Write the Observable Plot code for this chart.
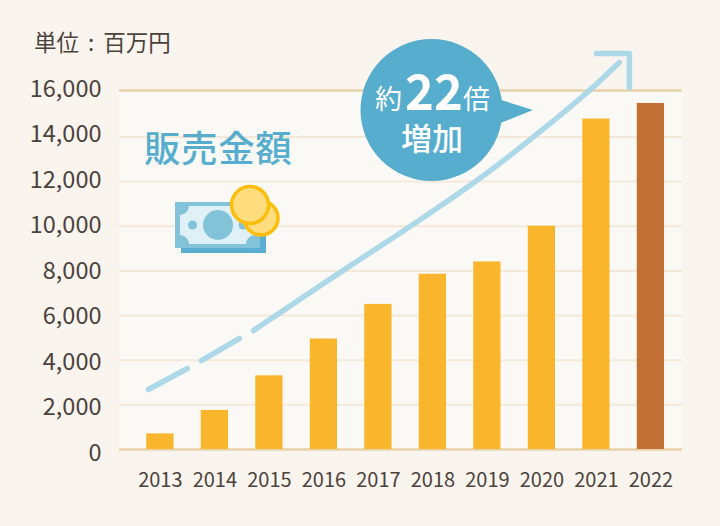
<!DOCTYPE html>
<html><head><meta charset="utf-8">
<script src="https://cdn.jsdelivr.net/npm/d3@7"></script>
<script src="https://cdn.jsdelivr.net/npm/@observablehq/plot@0.6"></script>
<style>html,body{margin:0;padding:0;background:#f9f4ed}svg{display:block}</style>
</head><body><div id="chart"></div>
<script>
const years=[2013,2014,2015,2016,2017,2018,2019,2020,2021,2022];
const sales=[700,1750,3300,4950,6500,7850,8400,10000,14800,15500];
const yTicks=[0,2000,4000,6000,8000,10000,12000,14000,16000];
const yTop=16080;
const trendYear=[2012.78,2013.495,2013.752,2014.45,2014.708,2015.075,2016.341,2017.587,2018.78,2019.846,2020.87,2021.42];
const trendValue=[2687,3628,3986,4972,5330,5930,8000,10000,12000,14000,16080,17334];
const trendPart=[0,0,1,1,2,2,2,2,2,2,2,2];
const headYear=[2021,2021.606,2021.606];
const headValue=[17737,17737,16214];
const font='"Noto Sans CJK JP","Noto Sans",sans-serif';
const ink="#4b423c", blue="#56adcd", lightBlue="#add8e8";
const bars=years.map((y,i)=>({y,v:sales[i]}));
const trend=trendYear.map((x,i)=>({x,v:trendValue[i],p:trendPart[i]}));
const head=headYear.map((x,i)=>({x,v:headValue[i]}));

function art(){
  const g=d3.create("svg:g");
  const t=(s,x,y,size,fill,weight,anchor)=>g.append("text").text(s).attr("x",x).attr("y",y)
    .attr("font-size",size).attr("fill",fill).attr("font-weight",weight||400).attr("text-anchor",anchor||"start").attr("font-family",font);
  t("単位 : 百万円",34,51,22.5,ink).attr("word-spacing",4);
  t("販売金額",144,162,36.5,blue,500).attr("letter-spacing",0.6);
  g.append("rect").attr("x",181).attr("y",208).attr("width",85).attr("height",45).attr("fill","#5aafd0");
  g.append("rect").attr("x",175).attr("y",202).attr("width",85).attr("height",46).attr("fill","#82c3da");
  g.append("path").attr("fill","#dff0f6").attr("d","M189,206H246A9,9 0 0 0 255,215V235A9,9 0 0 0 246,244H189A9,9 0 0 0 180,235V215A9,9 0 0 0 189,206Z");
  for(const [x,r] of [[218,15],[192.5,4.5],[243,4.5]]) g.append("circle").attr("cx",x).attr("cy",225).attr("r",r).attr("fill","#82c3da");
  for(const [x,y,r] of [[261,218,17],[250,205,18.5]]) g.append("circle").attr("cx",x).attr("cy",y).attr("r",r).attr("fill","#ffdc7e").attr("stroke","#fcbd0c").attr("stroke-width",3.5);
  g.append("path").attr("fill",blue).attr("d","M498,99L533,110L498,124Z");
  g.append("circle").attr("cx",431.5).attr("cy",110).attr("r",71).attr("fill",blue);
  t("約",375,109,27,"#fff",400);
  t("22",405,110,49,"#fff",700);
  t("倍",463,109,27,"#fff",400);
  t("増加",432,150,31,"#fff",500,"middle");
  return g.node();
}

const chart=Plot.plot({
  width:720,height:526,
  marginLeft:119,marginRight:38,marginTop:90,marginBottom:77,
  style:{background:"#f9f4ed",fontFamily:font,color:ink},
  x:{domain:[2012.25,2022.58],label:null},
  y:{domain:[0,yTop],label:null,axis:null},
  marks:[
    Plot.frame({fill:"#fbf9f6",stroke:null}),
    Plot.ruleY(yTicks.slice(1,-1),{stroke:"#f4e9d8",strokeWidth:2}),
    Plot.ruleY([0,yTop],{stroke:"#e8d2a8",strokeWidth:2.5}),
    Plot.rectY(bars,{x1:d=>d.y-0.25,x2:d=>d.y+0.25,y1:0,y2:"v",fill:d=>d.y===2022?"#c27035":"#f9b62c"}),
    Plot.text(yTicks,{x:()=>2012.25,y:d=>d*1.01766-157,text:d3.format(","),dx:-18,textAnchor:"end",lineAnchor:"middle",fontSize:23.5,fill:ink}),
    Plot.axisX({ticks:years,tickSize:0,tickPadding:23,fontSize:20,tickFormat:"d",label:null,fill:ink}),
    Plot.line(trend,{x:"x",y:"v",z:"p",stroke:lightBlue,strokeWidth:5.5,curve:"catmull-rom",strokeLinecap:"round"}),
    Plot.line(head,{x:"x",y:"v",stroke:lightBlue,strokeWidth:5.5,strokeLinecap:"round",strokeLinejoin:"round"}),
    art
  ]
});
document.getElementById("chart").appendChild(chart);
</script></body></html>
